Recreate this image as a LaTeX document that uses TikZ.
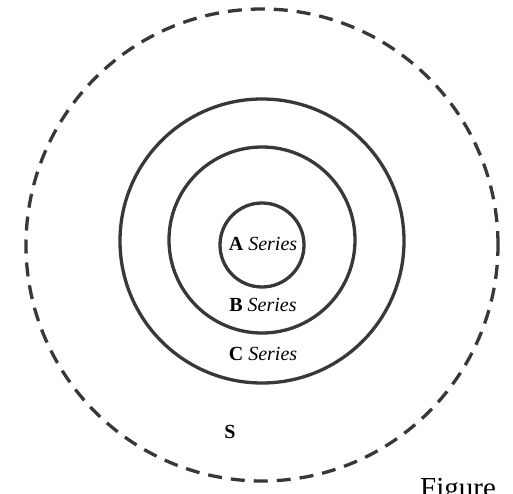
\documentclass[tikz,border=0pt]{standalone}
\usepackage{fontspec}
\setmainfont{Liberation Serif}
\begin{document}
\begin{tikzpicture}[x=1pt,y=-1pt,
  ring/.style={draw=black!78, line width=3.3pt},
  dashring/.style={draw=black!78, line width=3.3pt, dash pattern=on 14pt off 9pt},
  lbl/.style={font=\fontsize{20}{22}\selectfont, inner sep=0pt}]
\clip (0,0) rectangle (513,494);
\useasboundingbox (0,0) rectangle (513,494);
\node[circle, dashring, minimum size=472pt, inner sep=0pt] (S) at (262,245) {};
\node[circle, ring, minimum size=284pt, inner sep=0pt] (C) at (262,241) {};
\node[circle, ring, minimum size=186pt, inner sep=0pt] (B) at (262,240) {};
\node[circle, ring, minimum size=84pt, inner sep=0pt] (A) at (262,245) {};
\node[lbl] (la) at (263,244) {\textbf{A} \textit{Series}};
\node[lbl] (lb) at (263,305) {\textbf{B} \textit{Series}};
\node[lbl] (lc) at (263,354) {\textbf{C} \textit{Series}};
\node[lbl] (ls) at (230,432) {\textbf{S}};
\node[font=\fontsize{29}{32}\selectfont, inner sep=0pt, anchor=base west] (fig) at (420,497) {Figure};
\end{tikzpicture}
\end{document}
